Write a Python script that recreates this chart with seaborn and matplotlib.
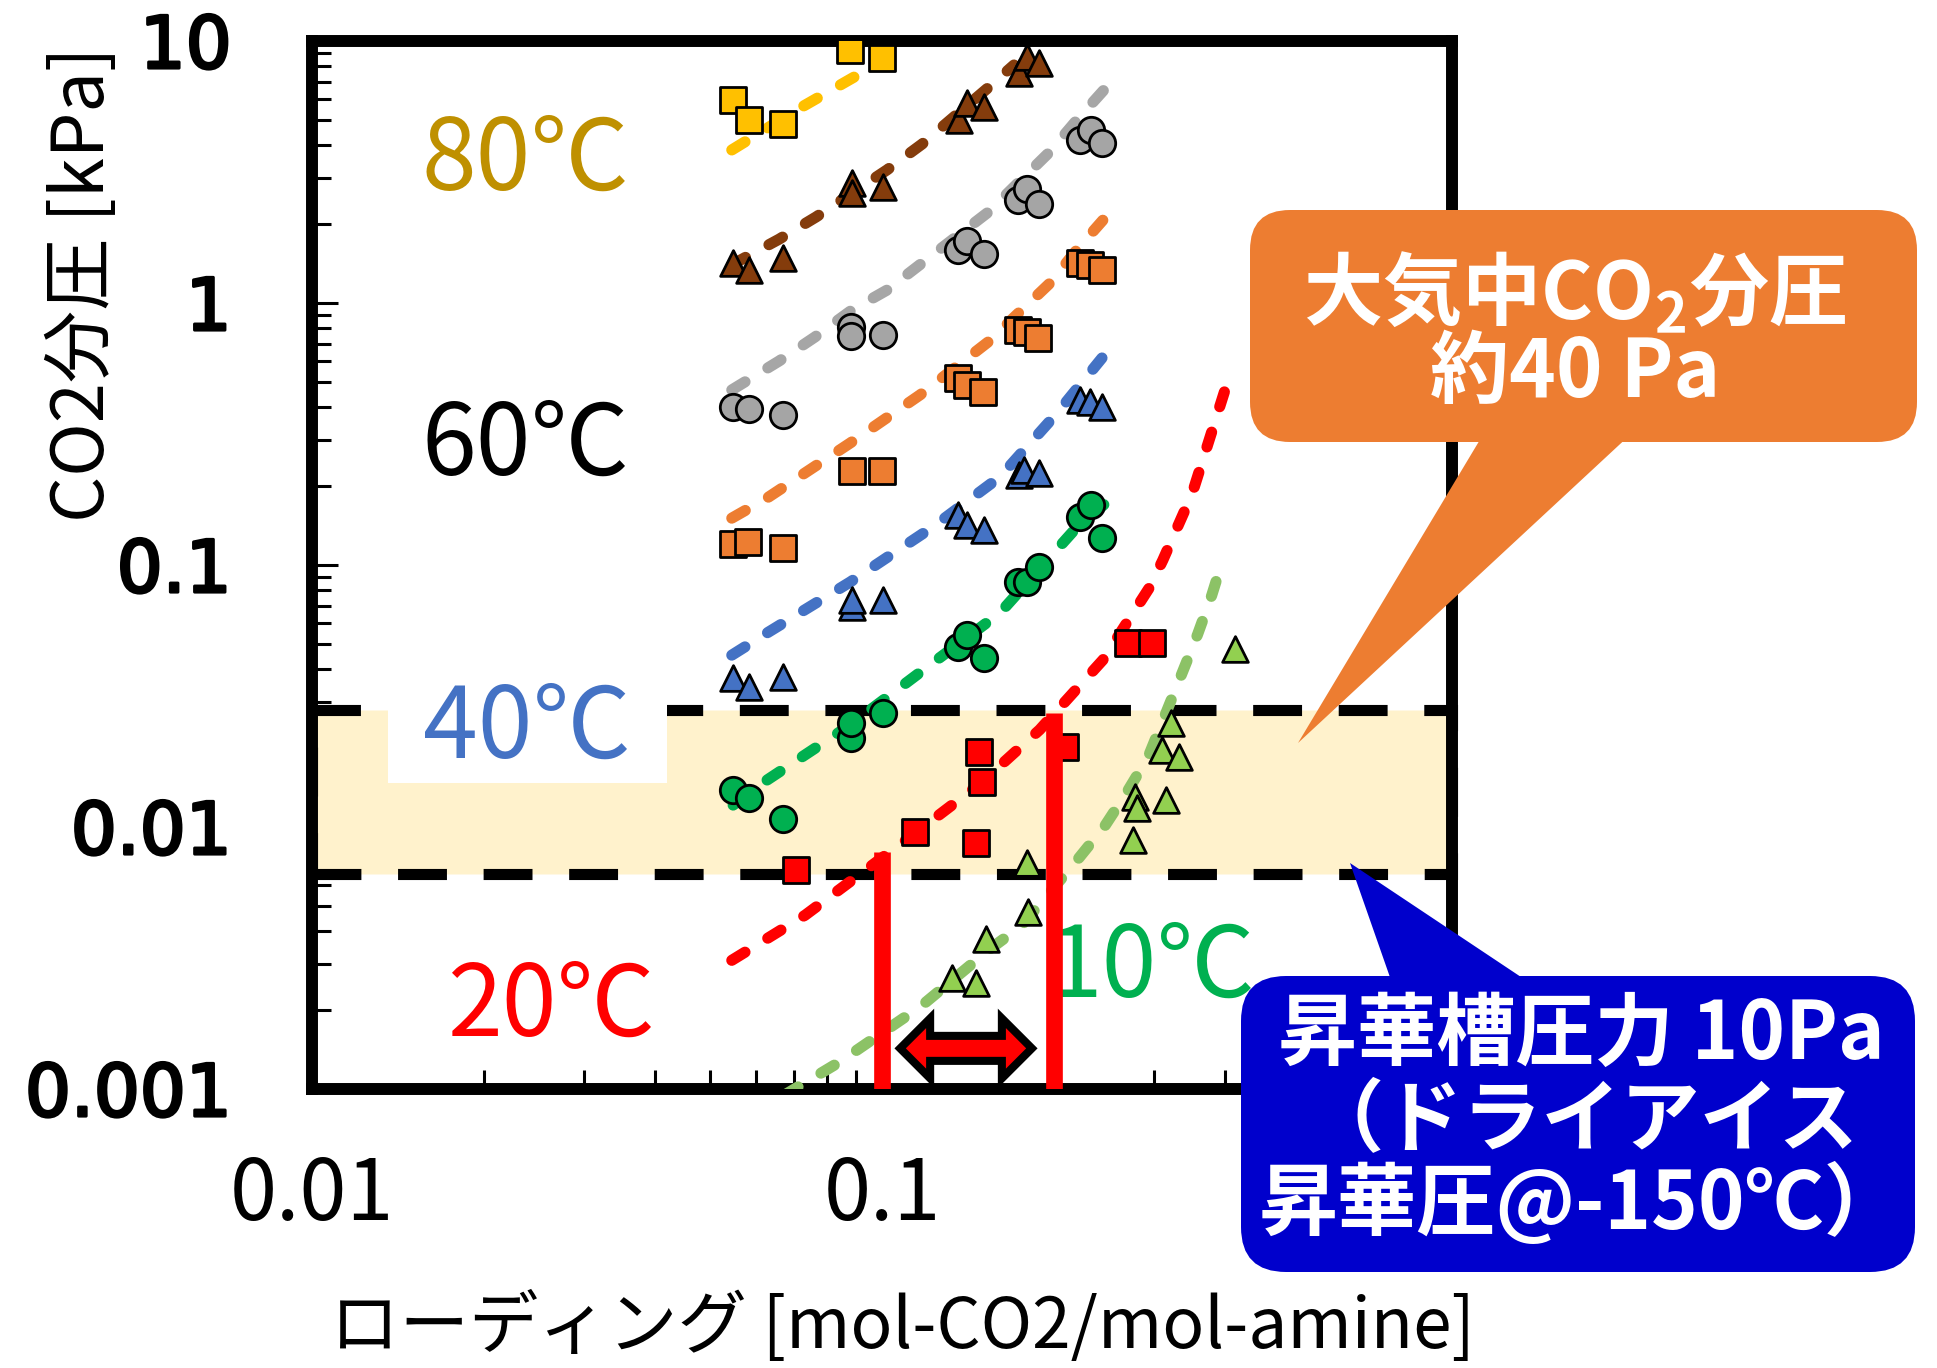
import numpy as np
import pandas as pd
import matplotlib
matplotlib.use("Agg")
import matplotlib.pyplot as plt
import seaborn as sns
from matplotlib.patches import FancyBboxPatch, Polygon, Rectangle
from matplotlib.transforms import IdentityTransform
from matplotlib import patheffects as pe
from matplotlib.ticker import LogLocator, NullFormatter, FixedLocator, FixedFormatter

# ---------------------------------------------------------------- data
# loading [mol-CO2/mol-amine] vs CO2 partial pressure [kPa]
x80 = [0.0548, 0.0584, 0.0670, 0.0879, 0.1000]
y80 = [5.96, 4.99, 4.82, 9.24, 8.61]
fx80 = [0.0545, 0.0718, 0.0926]
fy80 = [3.84, 5.55, 7.62]

x70 = [0.0548, 0.0584, 0.0670, 0.0885, 0.0885, 0.1004, 0.1365, 0.1410, 0.1510, 0.1737, 0.1797, 0.1885]
y70 = [1.42, 1.34, 1.48, 2.87, 2.63, 2.77, 4.99, 5.80, 5.60, 7.55, 8.69, 8.24]
fx70 = [0.0545, 0.0659, 0.0766, 0.102, 0.1175, 0.154, 0.1704]
fy70 = [1.40, 1.75, 2.13, 3.22, 4.04, 6.67, 8.10]

x60 = [0.0548, 0.0584, 0.0670, 0.0882, 0.0882, 0.1004, 0.1359, 0.1410, 0.1510, 0.1733, 0.1797, 0.1885, 0.2226, 0.2327, 0.2432]
y60 = [0.401, 0.394, 0.374, 0.810, 0.748, 0.755, 1.59, 1.73, 1.54, 2.47, 2.72, 2.39, 4.19, 4.58, 4.08]
fx60 = [0.0545, 0.066, 0.0762, 0.0885, 0.102, 0.1175, 0.1535, 0.1968, 0.2198, 0.245]
fy60 = [0.466, 0.601, 0.741, 0.94, 1.12, 1.42, 2.22, 3.77, 5.0, 6.5]

x50 = [0.0548, 0.0582, 0.0670, 0.0885, 0.1000, 0.1359, 0.1410, 0.1503, 0.1733, 0.1797, 0.1878, 0.2226, 0.2317, 0.2432]
y50 = [0.120, 0.1225, 0.116, 0.2285, 0.2285, 0.517, 0.486, 0.457, 0.789, 0.775, 0.735, 1.42, 1.40, 1.34]
fx50 = [0.0545, 0.0628, 0.0879, 0.1166, 0.1535, 0.197, 0.2204, 0.244]
fy50 = [0.151, 0.180, 0.292, 0.446, 0.710, 1.19, 1.61, 2.07]

x40 = [0.0548, 0.0584, 0.0670, 0.0885, 0.0885, 0.1004, 0.1359, 0.1410, 0.1510, 0.1737, 0.1778, 0.1885, 0.2226, 0.2317, 0.2432]
y40 = [0.0371, 0.0342, 0.0374, 0.0692, 0.0735, 0.0735, 0.155, 0.142, 0.136, 0.2206, 0.2305, 0.2245, 0.4265, 0.419, 0.401]
fx40 = [0.0545, 0.0628, 0.0879, 0.1227, 0.161, 0.2028, 0.2432]
fy40 = [0.0453, 0.055, 0.0861, 0.1396, 0.2168, 0.380, 0.617]

x30 = [0.0548, 0.0584, 0.0670, 0.0882, 0.0882, 0.1004, 0.1359, 0.1410, 0.1510, 0.1733, 0.1797, 0.1885, 0.2226, 0.2327, 0.2432]
y30 = [0.01384, 0.0129, 0.01074, 0.0219, 0.0249, 0.0272, 0.0486, 0.054, 0.0442, 0.0861, 0.0861, 0.0983, 0.1525, 0.1695, 0.1268]
fx30 = [0.0548, 0.0628, 0.0879, 0.1227, 0.161, 0.2198, 0.245]
fy30 = [0.01213, 0.0151, 0.0245, 0.0423, 0.0656, 0.1396, 0.170]

x20 = [0.0706, 0.1143, 0.1460, 0.1477, 0.1497, 0.2094, 0.2700, 0.2977]
y20 = [0.00686, 0.00957, 0.00869, 0.01933, 0.01486, 0.0202, 0.0504, 0.0504]
fx20 = [0.0545, 0.0733, 0.115, 0.149, 0.189, 0.244, 0.295, 0.311, 0.35, 0.40]
fy20 = [0.0031, 0.00461, 0.00957, 0.0147, 0.0235, 0.0434, 0.0824, 0.1045, 0.187, 0.468]

x10 = [0.1328, 0.1460, 0.1520, 0.1803, 0.1797, 0.2754, 0.2780, 0.2800, 0.3150, 0.3097, 0.3214, 0.3320, 0.4160]
y10 = [0.00265, 0.00254, 0.00374, 0.00474, 0.00729, 0.00892, 0.01302, 0.01182, 0.01268, 0.01968, 0.0249, 0.0185, 0.0478]
fx10 = [0.0675, 0.0843, 0.117, 0.154, 0.1754, 0.218, 0.246, 0.269, 0.293, 0.334, 0.358, 0.379, 0.396]
fy10 = [0.00095, 0.00127, 0.00207, 0.0034, 0.00419, 0.0073, 0.0101, 0.0136, 0.0185, 0.0374, 0.0545, 0.0768, 0.1045]

temps = ["80℃", "70℃", "60℃", "50℃", "40℃", "30℃", "20℃", "10℃"]
markers = ["s", "^", "o", "s", "^", "o", "s", "^"]
marker_colors = ["#FFC000", "#843C0C", "#A5A5A5", "#ED7D31", "#4472C4", "#00B050", "#FF0000", "#92D050"]
line_colors = ["#FFC000", "#843C0C", "#A6A6A6", "#ED7D31", "#4472C4", "#00B050", "#FF0000", "#8CC266"]
meas_x = [x80, x70, x60, x50, x40, x30, x20, x10]
meas_y = [y80, y70, y60, y50, y40, y30, y20, y10]
fit_x = [fx80, fx70, fx60, fx50, fx40, fx30, fx20, fx10]
fit_y = [fy80, fy70, fy60, fy50, fy40, fy30, fy20, fy10]

# sublimation-chamber pressure band [kPa]
band_lo, band_hi = 0.0066, 0.028
# operating loadings marked with vertical bars
bar_x = [0.1, 0.2]
bar_top = [0.0080, 0.0272]
# swing arrow between the two loadings
arrow_x = [0.1076, 0.1832]
arrow_y = 0.00143

# temperature labels: text, x, baseline y, colour
lab_text = ["80℃", "60℃", "40℃", "20℃", "10℃"]
lab_x = [0.0237, 0.0237, 0.0238, 0.0263, 0.297]
lab_y = [2.70, 0.2206, 0.01834, 0.0016, 0.002245]
lab_col = ["#BF9000", "black", "#4472C4", "#FF0000", "#00B050"]

x_ticks = [0.01, 0.1, 1]
x_ticklabels = ["0.01", "0.1", ""]
y_ticks = [0.001, 0.01, 0.1, 1, 10]
y_ticklabels = ["0.001", "0.01", "0.1", "1", "10"]

# ---------------------------------------------------------------- style
sns.set_style("white")
plt.rcParams["font.family"] = ["Noto Sans CJK JP", "DejaVu Sans"]
plt.rcParams["mathtext.fontset"] = "custom"
plt.rcParams["mathtext.rm"] = "Noto Sans CJK JP"
plt.rcParams["mathtext.bf"] = "Noto Sans CJK JP:bold"
for key in ["text.color", "axes.labelcolor", "xtick.color", "ytick.color",
            "xtick.labelcolor", "ytick.labelcolor"]:
    plt.rcParams[key] = "black"

fig = plt.figure(figsize=(19.37, 13.68), dpi=100)
ax = fig.add_axes([0.1611, 0.2039, 0.5885, 0.7661])
ax.set_xscale("log")
ax.set_yscale("log")
ax.set_xlim(0.01, 1)
ax.set_ylim(0.001, 10)

# pressure band with dashed border
ax.axhspan(band_lo, band_hi, facecolor="#FFF2CC", edgecolor="black", lw=8,
           linestyle=(0, (4.4, 3.3)), zorder=1, clip_on=False)

# model curves and measurements
for i in range(len(temps)):
    sns.lineplot(x=fit_x[i], y=fit_y[i], color=line_colors[i], lw=8,
                 linestyle=(0, (1.4, 2.4)), dash_capstyle="round",
                 sort=False, estimator=None, ax=ax, zorder=3)
for i in range(len(temps)):
    sns.scatterplot(x=meas_x[i], y=meas_y[i], marker=markers[i],
                    s=(18.5 if markers[i] == "^" else 19) ** 2,
                    color=marker_colors[i], edgecolor="black", linewidth=2,
                    ax=ax, zorder=4)

# vertical bars
ax.vlines(bar_x, 0.001, bar_top, colors="#FF0000", lw=12, zorder=5)

# double-headed block arrow between the bars (shape in pixels around the data ends)
(lx_px, cy_px) = ax.transData.transform((arrow_x[0], arrow_y))
(rx_px, _) = ax.transData.transform((arrow_x[1], arrow_y))
head_len, head_half, shaft_half = 30, 30, 12.5
arrow_shape = [
    (lx_px, cy_px),
    (lx_px + head_len, cy_px + head_half), (lx_px + head_len, cy_px + shaft_half),
    (rx_px - head_len, cy_px + shaft_half), (rx_px - head_len, cy_px + head_half),
    (rx_px, cy_px),
    (rx_px - head_len, cy_px - head_half), (rx_px - head_len, cy_px - shaft_half),
    (lx_px + head_len, cy_px - shaft_half), (lx_px + head_len, cy_px - head_half),
]
ax.add_patch(Polygon(arrow_shape, closed=True, transform=IdentityTransform(),
                     facecolor="#FF0000", edgecolor="black", lw=5.8,
                     joinstyle="miter", zorder=6))

# white backing behind the 40℃ label
ax.add_patch(Rectangle((0.01359, 0.01472), 0.04196 - 0.01359, 0.032 - 0.01472,
                       facecolor="white", edgecolor="none", zorder=2.1))

# temperature labels
for t, lx, ly, lc in zip(lab_text, lab_x, lab_y, lab_col):
    ax.text(lx, ly, t, color=lc, fontsize=71, ha="center", va="baseline", zorder=2.2)

# axes frame and ticks
for sp in ax.spines.values():
    sp.set_linewidth(8.6)
    sp.set_color("black")
    sp.set_zorder(2.5)

ax.xaxis.set_major_locator(FixedLocator(x_ticks))
ax.xaxis.set_major_formatter(FixedFormatter(x_ticklabels))
ax.yaxis.set_major_locator(FixedLocator(y_ticks))
ax.yaxis.set_major_formatter(FixedFormatter(y_ticklabels))
ax.xaxis.set_minor_locator(LogLocator(base=10, subs=np.arange(2, 10)))
ax.yaxis.set_minor_locator(LogLocator(base=10, subs=np.arange(2, 10)))
ax.xaxis.set_minor_formatter(NullFormatter())
ax.yaxis.set_minor_formatter(NullFormatter())
ax.tick_params(which="both", direction="in", top=False, right=False,
               bottom=True, left=True, color="black", labelcolor="black", width=2.2)
ax.tick_params(which="major", length=19)
ax.tick_params(which="minor", length=14)
ax.tick_params(axis="y", which="major", pad=58, labelsize=52)
ax.tick_params(axis="x", which="major", pad=46, labelsize=61)
for t in ax.get_yticklabels():
    t.set_fontfamily("DejaVu Sans")
    t.set_path_effects([pe.withStroke(linewidth=2.2, foreground="black")])

ax.set_xlabel("ローディング [mol-CO2/mol-amine]", fontsize=50, va="center")
ax.xaxis.set_label_coords(0.518, -0.228)
ax.set_ylabel("CO2分圧 [kPa]", fontsize=52, va="center", ha="center")
ax.yaxis.set_label_coords(-0.2009, 0.768)

# ---------------------------------------------------------------- callouts (inch coordinates)
tr = fig.dpi_scale_trans
orange = "#ED7D31"
blue = "#0000CC"
fig.add_artist(Polygon([(14.84, 9.35), (16.32, 9.35), (12.98, 6.25)], closed=True,
                       transform=tr, facecolor=orange, edgecolor="none", zorder=10))
fig.add_artist(FancyBboxPatch((12.50, 9.26), 6.67, 2.32,
                              boxstyle="round,pad=0,rounding_size=0.4",
                              transform=tr, facecolor=orange, edgecolor="none", zorder=10))
fig.text(15.75, 10.75, r"大気中CO$\mathbf{_2}$分圧", transform=tr, color="white",
         fontsize=57, fontweight="bold", ha="center", va="center", zorder=11)
fig.text(15.75, 9.94, "約40 Pa", transform=tr, color="white", fontsize=57,
         fontweight="bold", ha="center", va="center", zorder=11)

fig.add_artist(Polygon([(13.92, 3.85), (15.30, 3.85), (13.50, 5.05)], closed=True,
                       transform=tr, facecolor=blue, edgecolor="none", zorder=10))
fig.add_artist(FancyBboxPatch((12.41, 0.96), 6.74, 2.96,
                              boxstyle="round,pad=0,rounding_size=0.45",
                              transform=tr, facecolor=blue, edgecolor="none", zorder=10))
for yy, s in zip([3.33, 2.46, 1.64], ["昇華槽圧力 10Pa", "（ドライアイス", "昇華圧@-150℃）"]):
    fig.text(15.81, yy, s, transform=tr, color="white", fontsize=57, fontweight="bold",
             ha="center", va="center", zorder=11)

fig.savefig("out.png", dpi=100)
